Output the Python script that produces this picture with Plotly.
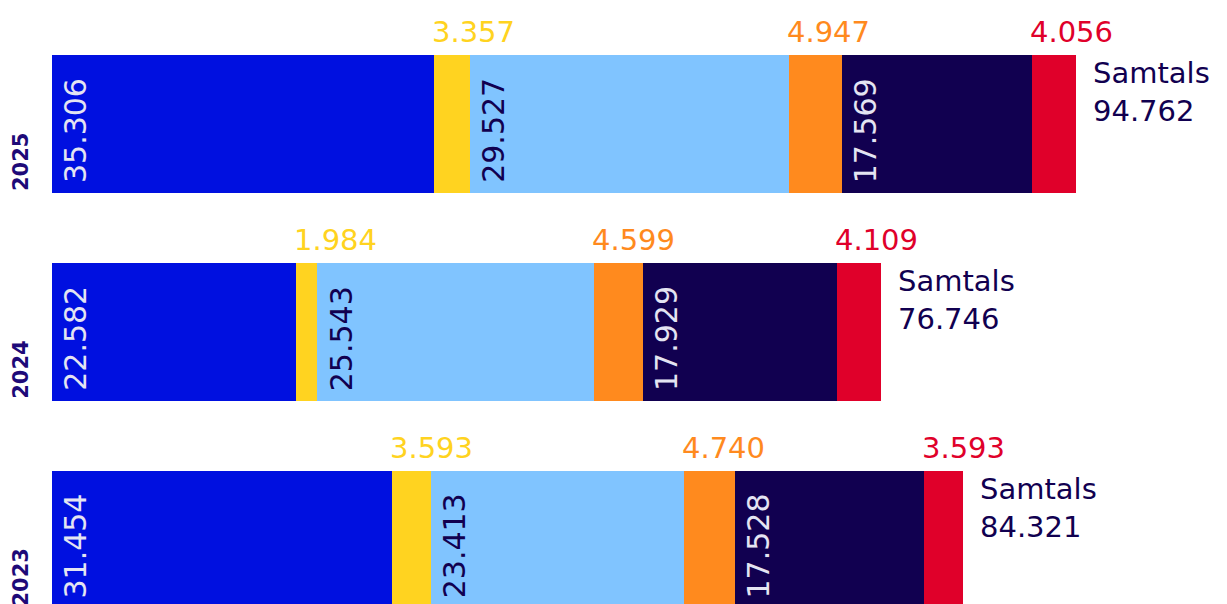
import plotly.graph_objects as go

years = ["2023", "2024", "2025"]
series_names = ["A", "B", "C", "D", "E", "F"]
values = {
    "A": [31.454, 22.582, 35.306],
    "B": [3.593, 1.984, 3.357],
    "C": [23.413, 25.543, 29.527],
    "D": [4.740, 4.599, 4.947],
    "E": [17.528, 17.929, 17.569],
    "F": [3.593, 4.109, 4.056],
}
totals = [84.321, 76.746, 94.762]
total_label = "Samtals"

colors = ["#0010E0", "#FFD320", "#80C4FF", "#FF8A1E", "#110050", "#E0002A"]
placement = ["inside", "outside", "inside", "outside", "inside", "outside"]
inside_text_colors = ["#E4E4F2", None, "#110050", None, "#E4E4F2", None]

FONT = "DejaVu Sans"
ypos = list(range(len(years)))
BAR_W = 0.664
HALF_PX = 69  # half bar thickness in pixels

fig = go.Figure()
for i, s in enumerate(series_names):
    fig.add_trace(go.Bar(
        y=ypos, x=values[s], orientation="h", name=s,
        marker=dict(color=colors[i], line=dict(width=0)),
        width=BAR_W, hoverinfo="skip",
    ))

def fmt(v):
    return f"{v:.3f}"

for j, yv in enumerate(ypos):
    cum = 0.0
    for i, s in enumerate(series_names):
        v = values[s][j]
        if placement[i] == "inside":
            fig.add_annotation(
                x=cum, y=yv, xref="x", yref="y",
                text=fmt(v), textangle=-90, showarrow=False,
                xanchor="left", yanchor="bottom", xshift=4, yshift=-HALF_PX + 8,
                font=dict(family=FONT, size=30, color=inside_text_colors[i]),
            )
        else:
            fig.add_annotation(
                x=cum, y=yv, xref="x", yref="y",
                text=fmt(v), showarrow=False,
                xanchor="left", yanchor="bottom", xshift=-4, yshift=HALF_PX + 4,
                font=dict(family=FONT, size=29, color=colors[i]),
            )
        cum += v
    fig.add_annotation(
        x=totals[j], y=yv, xref="x", yref="y",
        text=f"{total_label}<br>{fmt(totals[j])}", showarrow=False,
        xanchor="left", yanchor="top", xshift=15, yshift=HALF_PX + 1, align="left",
        font=dict(family=FONT, size=29, color="#110050"),
    )
    fig.add_annotation(
        x=0, y=yv, xref="paper", yref="y",
        text=f"<b>{years[j]}</b>", textangle=-90, showarrow=False,
        xanchor="center", yanchor="bottom", xshift=-31, yshift=-HALF_PX,
        font=dict(family=FONT, size=21, color="#1E0A78"),
    )

fig.update_layout(
    barmode="stack", width=1227, height=604,
    margin=dict(l=44, r=0, t=0, b=0),
    paper_bgcolor="white", plot_bgcolor="white",
    showlegend=False, bargap=0,
)
fig.update_xaxes(range=[0, 109.47], visible=False, fixedrange=True)
fig.update_yaxes(range=[-0.3489, 2.5584], visible=False, fixedrange=True)

fig.write_html("out.html", config={"displayModeBar": False})
